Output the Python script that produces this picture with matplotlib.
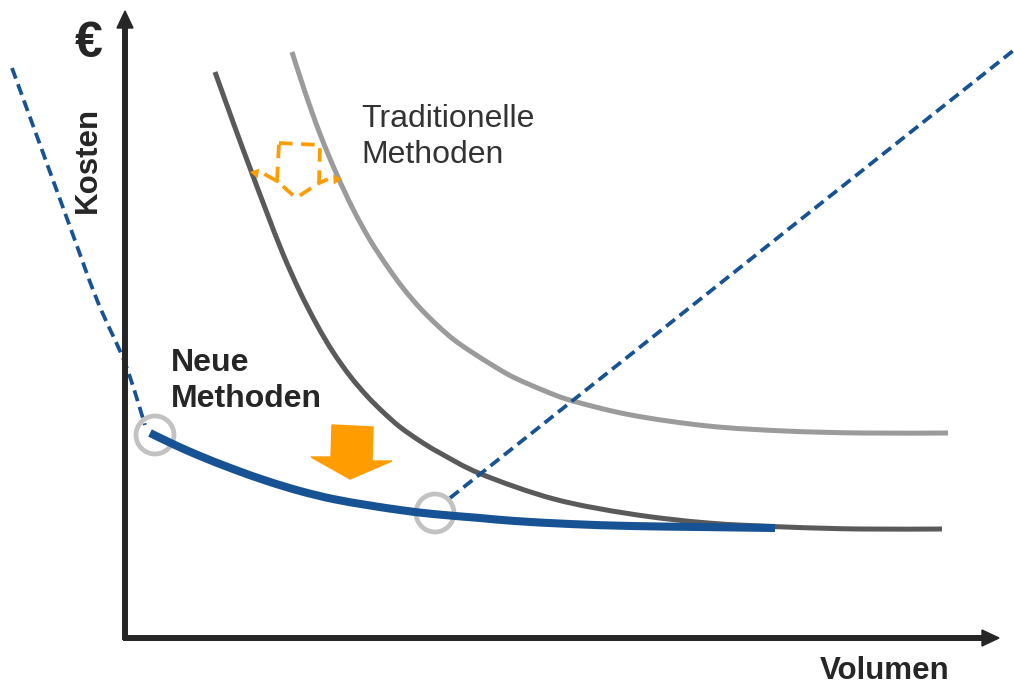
import matplotlib
matplotlib.use("Agg")
import matplotlib.pyplot as plt
from matplotlib.patches import Circle, Polygon, PathPatch
from matplotlib.path import Path

plt.rcParams["font.family"] = ["Liberation Sans", "DejaVu Sans"]

# curves (x = volume, y = cost, picture units, y grows downwards)
trad_x = [292, 305, 320, 337, 353, 370, 387, 403, 420, 437, 453, 470, 497, 515, 545, 573, 631, 708, 785, 862, 948]
trad_y = [52, 92, 134, 175, 209, 240, 266, 288, 308, 325, 339, 351, 368, 378, 391, 401, 415, 426, 431, 433, 433]

mid_x = [215, 233, 250, 267, 283, 300, 317, 333, 350, 367, 383, 400, 420, 440, 481, 554, 631, 708, 785, 860, 942]
mid_y = [72, 122, 168, 213, 254, 292, 325, 352, 376, 396, 412, 427, 441, 453, 474, 499, 514, 523, 527, 529, 529]

new_x = [150, 175, 200, 233, 267, 300, 333, 367, 400, 433, 480, 515, 570, 631, 700, 775]
new_y = [433, 445, 456, 469, 481, 491, 499, 505, 510, 514, 518, 521, 524, 526, 527, 528]

ext_left_x = [12, 65, 97, 125, 145]
ext_left_y = [68, 213, 300, 363, 425]
ext_right_x = [450, 1014]
ext_right_y = [498, 50]

marks_x = [155, 435]
marks_y = [435, 513]

# dashed "switch" pentagon between the two traditional curves
penta_x = [279, 320, 319, 296, 277]
penta_y = [143, 145, 183, 198, 181]

# big arrow down
drop_x = [332, 373, 372, 392, 350, 311, 331]
drop_y = [425, 427, 461, 461, 479, 457, 457]

BLUE = "#175394"
DARK = "#5a5a5a"
LIGHT = "#9b9b9b"
RING = "#c2c2c2"
ORANGE = "#ff9c00"
AXIS = "#262626"


def smooth(xs, ys):
    # catmull-rom through the read points, drawn as bezier segments
    pts = list(zip(xs, ys))
    verts = [pts[0]]
    codes = [Path.MOVETO]
    for i in range(len(pts) - 1):
        p0 = pts[max(i - 1, 0)]
        p1 = pts[i]
        p2 = pts[i + 1]
        p3 = pts[min(i + 2, len(pts) - 1)]
        c1 = (p1[0] + (p2[0] - p0[0]) / 6, p1[1] + (p2[1] - p0[1]) / 6)
        c2 = (p2[0] - (p3[0] - p1[0]) / 6, p2[1] - (p3[1] - p1[1]) / 6)
        verts += [c1, c2, p2]
        codes += [Path.CURVE4] * 3
    return Path(verts, codes)


fig = plt.figure(figsize=(10.14, 6.85), dpi=100)
ax = fig.add_axes([0, 0, 1, 1])
ax.set_xlim(0, 1014)
ax.set_ylim(685, 0)
ax.axis("off")

# axes with arrow heads
ax.plot([125, 125], [640, 24], color=AXIS, lw=4.3, solid_capstyle="butt", zorder=5)
ax.plot([123, 985], [638, 638], color=AXIS, lw=4.3, solid_capstyle="butt", zorder=5)
ax.add_patch(Polygon([[117, 28], [133, 28], [125, 11]], closed=True, color=AXIS, zorder=5))
ax.add_patch(Polygon([[982, 630], [982, 646], [999, 638]], closed=True, color=AXIS, zorder=5))

ax.add_patch(PathPatch(smooth(trad_x, trad_y), fill=False, ec=LIGHT, lw=3.6, capstyle="butt", zorder=2))
ax.add_patch(PathPatch(smooth(mid_x, mid_y), fill=False, ec=DARK, lw=3.6, capstyle="butt", zorder=2))

ax.add_patch(PathPatch(smooth(ext_left_x, ext_left_y), fill=False, ec=BLUE, lw=2.7,
                       ls=(0, (3, 1.6)), zorder=3))
ax.plot(ext_right_x, ext_right_y, color=BLUE, lw=2.7, ls=(0, (3, 1.6)), zorder=3)

for mx, my in zip(marks_x, marks_y):
    ax.add_patch(Circle((mx, my), 19, fill=False, ec=RING, lw=3.4, zorder=3))

ax.add_patch(PathPatch(smooth(new_x, new_y), fill=False, ec=BLUE, lw=5.8, capstyle="butt", zorder=4))

# orange markers
ax.add_patch(Polygon(list(zip(drop_x, drop_y)), closed=True, color=ORANGE, zorder=4))
ax.plot(penta_x + penta_x[:1], penta_y + penta_y[:1], color=ORANGE, lw=2.7,
        ls=(0, (3.6, 2.3)), zorder=4)
ax.annotate("", xy=(250, 172), xytext=(266, 175),
            arrowprops=dict(arrowstyle="-|>,head_length=0.6,head_width=0.35",
                            color=ORANGE, lw=0.1, shrinkA=0, shrinkB=0), zorder=4)
ax.annotate("", xy=(342, 179), xytext=(326, 180),
            arrowprops=dict(arrowstyle="-|>,head_length=0.6,head_width=0.35",
                            color=ORANGE, lw=0.1, shrinkA=0, shrinkB=0), zorder=4)
ax.plot([266, 277], [175, 181], color=ORANGE, lw=2.7, zorder=4)
ax.plot([326, 319], [180, 183], color=ORANGE, lw=2.7, zorder=4)

# labels
ax.text(89, 44, "€", fontsize=36, fontweight="bold", color=AXIS, ha="center", va="center")
ax.text(88, 160, "Kosten", fontsize=22.5, fontweight="bold", color=AXIS, rotation=90,
        ha="center", va="center")
ax.text(885, 671, "Volumen", fontsize=22.5, fontweight="bold", color=AXIS, ha="center", va="center")
ax.text(171, 381, "Neue\nMethoden", fontsize=23, fontweight="bold", color=AXIS,
        ha="left", va="center", linespacing=1.25)
ax.text(361, 137, "Traditionelle\nMethoden", fontsize=23, color="#333333",
        ha="left", va="center", linespacing=1.25)

fig.savefig("out.png", dpi=100)
